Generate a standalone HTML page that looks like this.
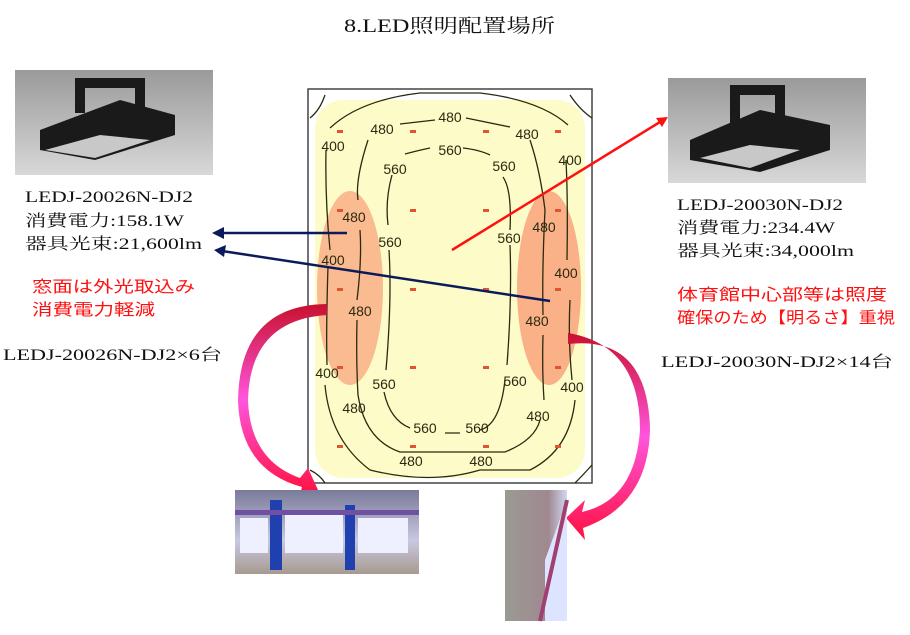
<!DOCTYPE html>
<html><head><meta charset="utf-8"><style>
body{margin:0;width:910px;height:635px;background:#fff;overflow:hidden;position:relative}
</style></head><body>
<svg width="910" height="635" style="position:absolute;left:0;top:0" font-family="Liberation Sans, sans-serif">
<defs>
<linearGradient id="prod" x1="0" y1="0" x2="0" y2="1"><stop offset="0" stop-color="#9a9a9a"/><stop offset="1" stop-color="#d8d8d8"/></linearGradient>
<linearGradient id="arr" x1="0" y1="0" x2="0" y2="1"><stop offset="0" stop-color="#c8102e"/><stop offset="0.5" stop-color="#ff55dd"/><stop offset="1" stop-color="#ff1040"/></linearGradient>
<linearGradient id="ph1" x1="0" y1="0" x2="0" y2="1"><stop offset="0" stop-color="#7a7a9a"/><stop offset="0.6" stop-color="#c8c8e0"/><stop offset="1" stop-color="#a89a90"/></linearGradient>
<linearGradient id="ph2" x1="0" y1="0" x2="1" y2="0"><stop offset="0" stop-color="#9a9a92"/><stop offset="0.7" stop-color="#a08890"/><stop offset="1" stop-color="#d0d8f0"/></linearGradient>
</defs>
<rect x="15" y="70" width="198" height="105" fill="url(#prod)"/>
<g fill="#1a1a1a"><rect x="75" y="78" width="70" height="10"/><rect x="75" y="78" width="10" height="35"/><rect x="135" y="78" width="10" height="35"/><polygon points="40,130 120,100 175,115 175,135 95,160 40,150"/></g>
<polygon points="45,150 95,158 150,140 100,135" fill="#c8c8c8"/>
<rect x="668" y="78" width="198" height="105" fill="url(#prod)"/>
<g fill="#1a1a1a"><rect x="730" y="85" width="55" height="10"/><rect x="730" y="85" width="10" height="40"/><rect x="775" y="85" width="10" height="35"/><polygon points="690,140 760,110 830,125 830,150 760,172 690,160"/></g>
<polygon points="700,158 750,168 800,150 750,145" fill="#c8c8c8"/>
<rect x="308" y="89" width="284" height="394" fill="#fff" stroke="#444" stroke-width="1.5"/>
<rect x="315" y="100" width="270" height="378" rx="28" fill="#fdfcc8"/>
<ellipse cx="350" cy="288" rx="33" ry="97" fill="#f9b48a" opacity="0.9"/>
<ellipse cx="549" cy="288" rx="32" ry="97" fill="#f9a880" opacity="0.9"/>
<g fill="none" stroke="#2a2a10" stroke-width="1.3">
<path d="M310,118 Q320,110 325,95 M592,118 Q580,110 570,95 M310,470 Q320,475 325,483 M592,465 Q582,476 575,483"/>
<path d="M330,128 Q360,100 420,93 L480,93 Q540,100 568,125"/>
<path d="M326,150 Q325,200 330,250 M328,266 Q326,330 327,365 M325,385 Q330,440 370,470 Q430,485 480,470 L530,470 Q570,450 575,400 M572,380 Q568,340 570,300 M567,260 Q568,200 566,160"/>
<path d="M368,140 Q355,180 358,200 M360,230 Q362,260 357,300 M357,320 Q356,360 358,395 Q365,440 400,452 L505,452 Q535,440 540,420 M544,400 Q542,370 543,335 M543,315 Q542,270 545,210 Q540,170 530,140"/>
<path d="M392,175 Q385,200 388,225 M389,250 Q392,300 386,370 M384,392 Q390,420 410,428 M445,433 L460,433 M480,430 Q500,425 505,380 M507,365 Q512,300 510,245 M510,230 Q512,190 503,177"/>
<path d="M405,154 Q420,150 430,148 M463,148 Q480,150 490,155"/>
<path d="M400,124 L435,120 M466,118 L510,127"/>
</g>
<g fill="#e05530"><rect x="337" y="130" width="6" height="3"/><rect x="410" y="130" width="6" height="3"/><rect x="483" y="130" width="6" height="3"/><rect x="555" y="130" width="6" height="3"/>
<rect x="337" y="209" width="6" height="3"/><rect x="410" y="209" width="6" height="3"/><rect x="483" y="209" width="6" height="3"/><rect x="555" y="209" width="6" height="3"/>
<rect x="337" y="288" width="6" height="3"/><rect x="410" y="288" width="6" height="3"/><rect x="483" y="288" width="6" height="3"/><rect x="555" y="288" width="6" height="3"/>
<rect x="337" y="366" width="6" height="3"/><rect x="410" y="366" width="6" height="3"/><rect x="483" y="366" width="6" height="3"/><rect x="555" y="366" width="6" height="3"/>
<rect x="337" y="445" width="6" height="3"/><rect x="410" y="445" width="6" height="3"/><rect x="483" y="445" width="6" height="3"/><rect x="555" y="445" width="6" height="3"/></g>
<g font-size="14" fill="#2a2a10" text-anchor="middle">
<text x="450" y="122">480</text><text x="382" y="134">480</text><text x="527" y="139">480</text>
<text x="333" y="151">400</text><text x="570" y="165">400</text>
<text x="450" y="155">560</text><text x="395" y="174">560</text><text x="504" y="171">560</text>
<text x="354" y="222">480</text><text x="544" y="232">480</text>
<text x="390" y="247">560</text><text x="509" y="243">560</text>
<text x="333" y="265">400</text><text x="566" y="278">400</text>
<text x="360" y="316">480</text><text x="537" y="326">480</text>
<text x="327" y="378">400</text><text x="384" y="389">560</text><text x="515" y="386">560</text><text x="572" y="392">400</text>
<text x="354" y="413">480</text><text x="538" y="421">480</text>
<text x="425" y="433">560</text><text x="477" y="433">560</text>
<text x="411" y="466">480</text><text x="481" y="466">480</text>
</g>
<line x1="347" y1="233" x2="220" y2="233" stroke="#0a1a5a" stroke-width="2.5"/>
<polygon points="212,233 224,227 224,239" fill="#0a1a5a"/>
<line x1="550" y1="301" x2="222" y2="251" stroke="#0a1a5a" stroke-width="2.5"/>
<polygon points="214,250 226,245 224,257" fill="#0a1a5a"/>
<line x1="452" y1="250" x2="660" y2="122" stroke="#ff1010" stroke-width="2.5"/>
<polygon points="668,117 656,118 662,127" fill="#ff1010"/>
<path d="M327,315 Q250,320 248,400 Q250,460 300,478 L308,468 L318,490 L300,495 L302,487 Q240,470 238,400 Q240,305 327,304 Z" fill="url(#arr)"/>
<path d="M568,333 Q640,345 640,430 Q635,500 582,512 L585,500 L566,518 L585,540 L583,528 Q648,505 650,430 Q648,335 568,344 Z" fill="url(#arr)"/>
<rect x="235" y="490" width="184" height="84" fill="url(#ph1)"/>
<g fill="#2040b0"><rect x="270" y="500" width="12" height="70"/><rect x="345" y="505" width="10" height="65"/><rect x="235" y="510" width="184" height="5" fill="#7050a0"/></g>
<g fill="#eef0ff"><rect x="240" y="518" width="28" height="35"/><rect x="285" y="515" width="58" height="38"/><rect x="358" y="518" width="50" height="35"/></g>
<rect x="505" y="490" width="62" height="131" fill="url(#ph2)"/>
<polygon points="545,560 567,500 567,621 545,621" fill="#dde4ff"/>
<line x1="540" y1="621" x2="567" y2="500" stroke="#a04070" stroke-width="4"/>
<g font-family="Liberation Serif, Noto Serif CJK SC, serif" font-size="16" fill="#111" lengthAdjust="spacingAndGlyphs">
<text x="344" y="32" font-size="19" textLength="211" lengthAdjust="spacingAndGlyphs">8.LED照明配置場所</text>
<text x="25" y="202" textLength="168" lengthAdjust="spacingAndGlyphs">LEDJ-20026N-DJ2</text>
<text x="25" y="226" textLength="159" lengthAdjust="spacingAndGlyphs">消費電力:158.1W</text>
<text x="25" y="249" textLength="177" lengthAdjust="spacingAndGlyphs">器具光束:21,600lm</text>
<text x="3" y="360" textLength="219" lengthAdjust="spacingAndGlyphs">LEDJ-20026N-DJ2×6台</text>
<text x="677" y="210" textLength="166" lengthAdjust="spacingAndGlyphs">LEDJ-20030N-DJ2</text>
<text x="677" y="233" textLength="158" lengthAdjust="spacingAndGlyphs">消費電力:234.4W</text>
<text x="677" y="256" textLength="177" lengthAdjust="spacingAndGlyphs">器具光束:34,000lm</text>
<text x="661" y="367" textLength="232" lengthAdjust="spacingAndGlyphs">LEDJ-20030N-DJ2×14台</text>
</g>
<g font-family="Liberation Sans, Noto Sans CJK JP, sans-serif" font-size="16" fill="#ff1010">
<text x="32" y="292" textLength="163" lengthAdjust="spacingAndGlyphs">窓面は外光取込み</text>
<text x="32" y="315" textLength="123" lengthAdjust="spacingAndGlyphs">消費電力軽減</text>
<text x="677" y="300" textLength="210" lengthAdjust="spacingAndGlyphs">体育館中心部等は照度</text>
<text x="677" y="323" textLength="218" lengthAdjust="spacingAndGlyphs">確保のため【明るさ】重視</text>
</g>
</svg>
</body></html>
